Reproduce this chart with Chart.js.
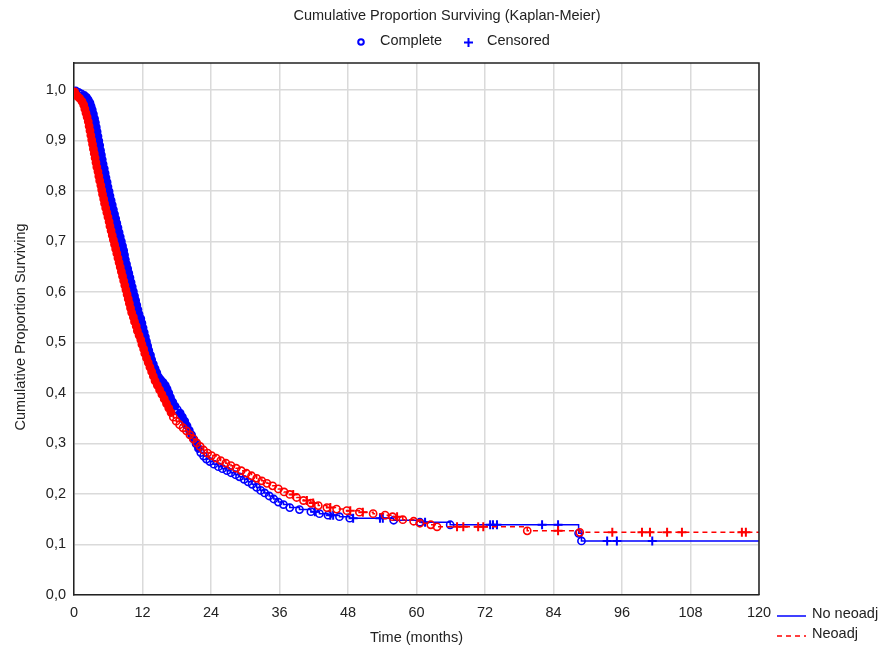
<!DOCTYPE html>
<html>
<head>
<meta charset="utf-8">
<script src="https://cdn.jsdelivr.net/npm/chart.js@4.4.1/dist/chart.umd.min.js"></script>
<style>
  html, body { margin: 0; background: #fff; }
  canvas { display: block; }
</style>
</head>
<body>
<canvas id="km" width="882" height="648"></canvas>
<script>
// ── ticks ──
const xTicks = [0, 12, 24, 36, 48, 60, 72, 84, 96, 108, 120];
const yTicks = [0, 0.1, 0.2, 0.3, 0.4, 0.5, 0.6, 0.7, 0.8, 0.9, 1.0];

// ── No neoadj: events (complete) ──
const blueEvT = [0.3,0.8,1.3,1.8,2.2,2.5,2.8,3.0,3.2,3.4,
  3.6,3.75,3.9,4.05,4.2,4.35,4.5,4.65,4.8,4.95,
  5.1,5.3,5.45,5.6,5.8,5.95,6.15,6.3,6.5,6.7,
  6.9,7.1,7.3,7.5,7.7,7.9,8.1,8.3,8.5,8.7,
  8.85,9.0,9.2,9.4,9.6,9.8,10.0,10.2,10.4,10.6,
  10.8,11.0,11.2,11.4,11.7,11.9,12.1,12.3,12.5,12.7,
  12.9,13.1,13.4,13.6,13.9,14.2,14.5,14.8,15.2,15.6,
  16.0,16.3,16.6,16.9,17.3,17.7,18.1,18.6,19.0,19.4,
  19.8,20.2,20.6,21.0,21.4,21.8,22.2,22.7,23.2,23.8,
  24.5,25.3,26.0,26.8,27.5,28.3,29.0,29.8,30.5,31.2,
  32.0,32.7,33.4,34.2,35.0,35.8,36.7,37.8,39.5,41.5,
  43.0,44.5,46.5,48.3,56.0,60.6,65.9,88.4,88.9];
const blueEvS = [.998,.995,.992,.989,.985,.980,.974,.967,.960,.952,
  .943,.935,.926,.917,.908,.899,.890,.880,.871,.862,
  .853,.844,.835,.826,.817,.808,.799,.790,.781,.772,
  .763,.754,.745,.736,.727,.718,.709,.700,.691,.682,
  .673,.664,.655,.646,.637,.628,.619,.610,.601,.592,
  .583,.574,.565,.556,.547,.538,.529,.520,.511,.502,
  .493,.484,.475,.466,.457,.448,.440,.432,.426,.421,
  .415,.408,.400,.391,.382,.374,.367,.360,.352,.344,
  .335,.326,.317,.308,.299,.290,.282,.275,.269,.264,
  .259,.254,.250,.246,.242,.238,.234,.229,.224,.219,
  .213,.207,.202,.196,.190,.184,.179,.173,.169,.165,
  .161,.158,.155,.152,.148,.144,.139,.122,.107];
// censored
const blueCenT = [42.2,44.9,45.4,48.9,53.6,54.1,61.5,72.9,73.4,74.1,82.0,84.8,93.4,95.1,101.3];
const blueCenS = [.165,.158,.158,.152,.152,.152,.144,.139,.139,.139,.139,.139,.107,.107,.107];

// ── Neoadj: events (complete) ──
const redEvT = [0.1,0.3,0.6,1.0,1.4,1.7,1.9,2.1,2.3,2.5,
  2.65,2.8,2.95,3.1,3.25,3.4,3.55,3.7,3.85,4.0,
  4.2,4.35,4.5,4.7,4.85,5.0,5.2,5.35,5.55,5.75,
  5.95,6.15,6.3,6.5,6.7,6.9,7.1,7.3,7.5,7.7,
  7.9,8.1,8.3,8.5,8.7,8.9,9.1,9.3,9.5,9.7,
  9.9,10.1,10.4,10.6,10.9,11.1,11.4,11.7,11.9,12.2,
  12.4,12.7,13.0,13.3,13.6,13.9,14.2,14.6,15.0,15.4,
  15.8,16.2,16.6,17.0,17.4,17.9,18.5,19.1,19.7,20.3,
  20.9,21.5,22.1,22.7,23.4,24.1,24.9,25.7,26.6,27.5,
  28.4,29.3,30.2,31.1,32.0,32.9,33.8,34.8,35.8,36.8,
  37.8,39.0,40.2,41.5,42.8,44.3,46.0,47.8,50.0,52.4,
  54.5,55.8,57.6,59.5,60.6,62.5,63.6,79.4,88.6];
const redEvS = [.996,.991,.987,.983,.977,.970,.962,.954,.946,.937,
  .928,.919,.910,.901,.892,.883,.874,.865,.856,.847,
  .838,.829,.820,.811,.802,.793,.784,.775,.766,.757,
  .748,.739,.730,.721,.712,.703,.694,.685,.676,.667,
  .658,.649,.640,.631,.622,.613,.604,.595,.586,.577,
  .568,.559,.550,.541,.532,.523,.514,.505,.496,.487,
  .478,.469,.460,.451,.442,.433,.424,.415,.406,.397,
  .388,.379,.370,.361,.352,.344,.337,.331,.325,.317,
  .309,.301,.294,.287,.281,.276,.271,.266,.261,.256,
  .251,.246,.241,.236,.231,.226,.221,.216,.210,.204,
  .199,.193,.187,.182,.177,.173,.170,.167,.164,.161,
  .158,.155,.149,.146,.142,.139,.135,.127,.124];
// censored
const redCenT = [38.4,40.8,41.9,44.9,48.4,50.6,56.6,67.1,68.2,70.8,71.7,84.8,94.3,99.5,100.9,103.9,106.5,117.0,117.7];
const redCenS = [.199,.187,.182,.173,.167,.164,.155,.135,.135,.135,.135,.127,.124,.124,.124,.124,.124,.124,.124];

const BLUE = '#0000ff', RED = '#ff0000';
const FONT = '"Liberation Sans", Arial, sans-serif';

function pts(T, S) { return T.map((t, i) => ({ x: t, y: S[i] })); }

// step curve through events + censored points, from t=0 to end of axis
function curve(evT, evS, cT, cS) {
  const p = pts(evT, evS).concat(pts(cT, cS)).sort((a, b) => a.x - b.x);
  const last = p[p.length - 1].y;
  return [{ x: 0, y: 1 }].concat(p, [{ x: xTicks[xTicks.length - 1], y: last }]);
}

// where events are packed tight the rings overprint into a solid band
function ringFill(col) {
  return c => {
    const d = c.dataset.data, i = c.dataIndex;
    if (!d || i == null || i >= d.length - 1) return 'rgba(0,0,0,0)';
    return (d[i + 1].x - d[i].x) <= 0.45 ? col : 'rgba(0,0,0,0)';
  };
}

const framePlugin = {
  id: 'frame',
  afterDraw(chart) {
    const ctx = chart.ctx, a = chart.chartArea;
    ctx.save();
    // top + right frame
    ctx.strokeStyle = '#222'; ctx.lineWidth = 1.5;
    ctx.beginPath();
    ctx.moveTo(a.left, a.top); ctx.lineTo(a.right, a.top); ctx.lineTo(a.right, a.bottom);
    ctx.stroke();

    ctx.fillStyle = '#222';
    ctx.font = '14.5px ' + FONT;
    ctx.textBaseline = 'middle';
    ctx.textAlign = 'center';
    ctx.fillText('Cumulative Proportion Surviving (Kaplan-Meier)', 447, 16);
    ctx.fillText('Time (months)', (a.left + a.right) / 2, 638);

    // y title
    ctx.save();
    ctx.translate(21, 327); ctx.rotate(-Math.PI / 2);
    ctx.fillText('Cumulative Proportion Surviving', 0, 0);
    ctx.restore();

    // marker legend
    ctx.textAlign = 'left';
    ctx.strokeStyle = BLUE; ctx.lineWidth = 2;
    ctx.beginPath(); ctx.arc(361, 42, 2.8, 0, Math.PI * 2); ctx.stroke();
    ctx.fillText('Complete', 380, 41);
    ctx.beginPath();
    ctx.moveTo(464, 42.5); ctx.lineTo(473, 42.5);
    ctx.moveTo(468.5, 38); ctx.lineTo(468.5, 47);
    ctx.stroke();
    ctx.fillText('Censored', 487, 41);

    // line legend
    ctx.lineWidth = 1.5;
    ctx.beginPath(); ctx.moveTo(777, 616); ctx.lineTo(806, 616); ctx.stroke();
    ctx.strokeStyle = RED; ctx.setLineDash([5, 4]);
    ctx.beginPath(); ctx.moveTo(777, 636); ctx.lineTo(806, 636); ctx.stroke();
    ctx.setLineDash([]);
    ctx.fillText('No neoadj', 812, 614);
    ctx.fillText('Neoadj', 812, 634);
    ctx.restore();
  }
};

new Chart(document.getElementById('km'), {
  type: 'scatter',
  data: {
    datasets: [
      { label: 'Neoadj', data: curve(redEvT, redEvS, redCenT, redCenS), showLine: true, stepped: true,
        borderColor: RED, borderWidth: 1.5, borderDash: [5, 4], pointRadius: 0, order: 2 },
      { label: 'Neoadj complete', data: pts(redEvT, redEvS), pointStyle: 'circle', pointRadius: 3.6,
        borderColor: RED, backgroundColor: ringFill(RED), borderWidth: 1.6, order: 1 },
      { label: 'Neoadj censored', data: pts(redCenT, redCenS), pointStyle: 'cross', pointRadius: 4.5,
        borderColor: RED, borderWidth: 2, order: 1 },
      { label: 'No neoadj', data: curve(blueEvT, blueEvS, blueCenT, blueCenS), showLine: true, stepped: true,
        borderColor: BLUE, borderWidth: 1.5, pointRadius: 0, order: 4 },
      { label: 'No neoadj complete', data: pts(blueEvT, blueEvS), pointStyle: 'circle', pointRadius: 3.6,
        borderColor: BLUE, backgroundColor: ringFill(BLUE), borderWidth: 1.6, order: 3 },
      { label: 'No neoadj censored', data: pts(blueCenT, blueCenS), pointStyle: 'cross', pointRadius: 4.5,
        borderColor: BLUE, borderWidth: 2, order: 3 }
    ]
  },
  options: {
    responsive: false,
    animation: false,
    events: [],
    layout: { padding: { top: 63, right: 123, left: 0, bottom: 0 } },
    plugins: { legend: { display: false }, tooltip: { enabled: false }, title: { display: false } },
    scales: {
      x: {
        type: 'linear', min: 0, max: 120,
        afterBuildTicks: s => { s.ticks = xTicks.map(v => ({ value: v })); },
        afterFit: s => { s.height = 53; },
        grid: { color: '#dadada', lineWidth: 1.5, drawTicks: false },
        border: { display: true, color: '#222', width: 1.5 },
        ticks: { padding: 9, color: '#222', font: { family: FONT, size: 14.5 } }
      },
      y: {
        type: 'linear', min: 0, max: 1.053,
        afterBuildTicks: s => { s.ticks = yTicks.map(v => ({ value: v })); },
        afterFit: s => { s.width = 74; },
        grid: { color: '#dadada', lineWidth: 1.5, drawTicks: false },
        border: { display: true, color: '#222', width: 1.5 },
        ticks: { padding: 8, color: '#222', font: { family: FONT, size: 14.5 },
          callback: v => v.toFixed(1).replace('.', ',') }
      }
    }
  },
  plugins: [framePlugin]
});
</script>
</body>
</html>
